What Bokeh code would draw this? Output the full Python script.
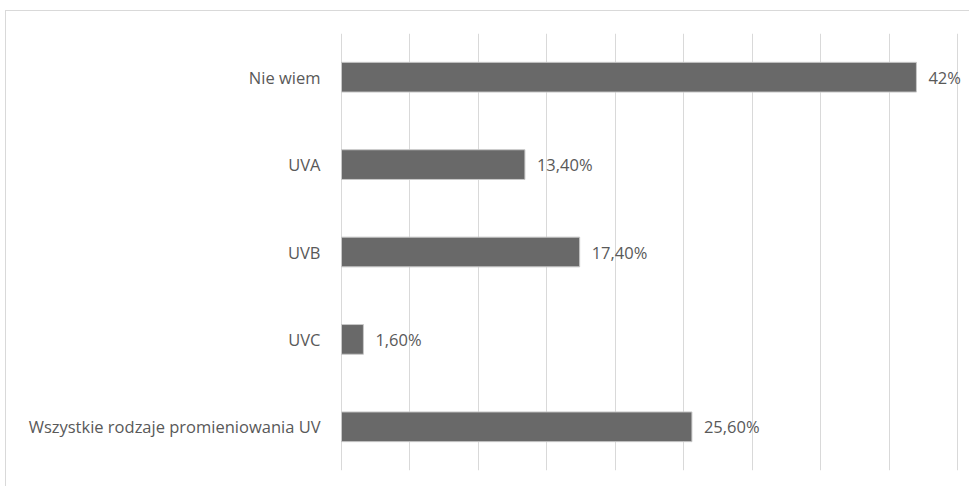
from bokeh.plotting import figure
from bokeh.models import ColumnDataSource, FactorRange, Range1d, FixedTicker, LabelSet
from bokeh.core.properties import value
from bokeh.embed import file_html
from bokeh.resources import INLINE

categories = ["Nie wiem", "UVA", "UVB", "UVC", "Wszystkie rodzaje promieniowania UV"]
values = [42.0, 13.4, 17.4, 1.6, 25.6]
value_labels = ["42%", "13,40%", "17,40%", "1,60%", "25,60%"]
grid_ticks = [0, 5, 10, 15, 20, 25, 30, 35, 40, 45]

source = ColumnDataSource(data=dict(cat=categories, val=values, lab=value_labels))

p = figure(
    width=964, height=476,
    y_range=FactorRange(factors=list(reversed(categories))),
    x_range=Range1d(-0.073, 45.95),
    output_backend="svg", toolbar_location=None,
    min_border_left=334, min_border_right=0, min_border_top=22, min_border_bottom=17,
)
p.styles = {"margin-left": "5px", "margin-top": "10px",
            "border-left": "1px solid #d9d9d9", "border-top": "1px solid #d9d9d9"}

p.hbar(y="cat", right="val", left=0, height=0.34, source=source,
       fill_color="#696969", line_color="#c8c8c8", line_width=1)

labels = LabelSet(x="val", y="cat", text="lab", source=source, x_offset=12,
                  text_baseline="middle", text_font_size="16.5px",
                  text_font=value("Open Sans"), text_color="#595959")
p.add_layout(labels)

p.xaxis.visible = False
p.xgrid.ticker = FixedTicker(ticks=grid_ticks)
p.xgrid.grid_line_color = "#d9d9d9"
p.ygrid.grid_line_color = None
p.outline_line_color = None

ax = p.yaxis[0]
ax.axis_line_color = None
ax.major_tick_line_color = None
ax.minor_tick_line_color = None
ax.major_label_text_font = "Open Sans"
ax.major_label_text_font_size = "16.5px"
ax.major_label_text_color = "#595959"
ax.major_label_standoff = 14

open("out.html", "w").write(file_html(p, INLINE))
